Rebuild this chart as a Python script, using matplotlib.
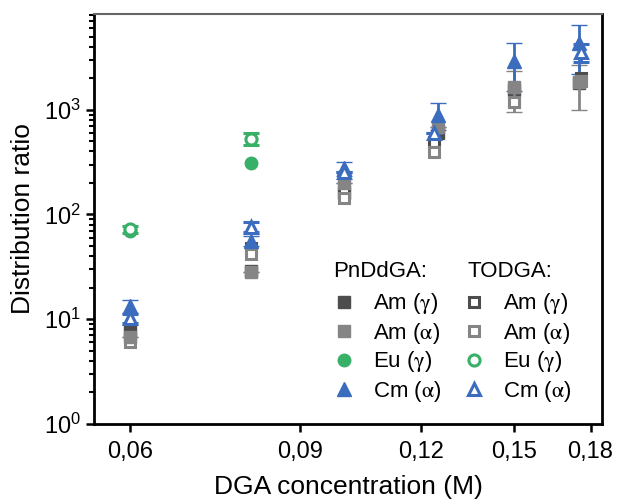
import matplotlib
matplotlib.use("Agg")
import matplotlib.pyplot as plt
from matplotlib.lines import Line2D
from matplotlib.ticker import FixedLocator, FixedFormatter, LogLocator, NullFormatter, NullLocator

plt.rcParams['font.family'] = ['Liberation Sans', 'DejaVu Sans']
plt.rcParams['mathtext.fontset'] = 'stix'

# ---- data ----
x_pn = [0.06, 0.08, 0.10, 0.125, 0.15, 0.175]
x_to = [0.06, 0.08, 0.10, 0.124, 0.15, 0.176]

pn_am_g = [7.8, 29, 160, 600, 1550, 1800]
pn_am_a = [6.8, 28, 200, 680, 1650, 1850]
pn_eu_g = [70, 310, None, None, None, None]
pn_cm_a = [13.4, 56, 275, 900, 2900, 4300]
pn_cm_a_err = [2, 6, 40, 260, 1400, 2100]
pn_am_a_err = [0, 0, 0, 0, 700, 850]

to_am_g = [7.0, 48, 165, 495, 1190, 2000]
to_am_a = [6.1, 42, 145, 398, 1190, 1900]
to_eu_g = [72, 530, None, None, None, None]
to_eu_err = [5, 70, 0, 0, 0, 0]
to_cm_a = [10.3, 76, 255, 600, None, 3550]
to_cm_a_err = [1, 8, 0, 0, 0, 700]

x_ticks = [0.06, 0.09, 0.12, 0.15, 0.18]
x_tick_labels = ['0,06', '0,09', '0,12', '0,15', '0,18']

c_dark = '#4d4d4d'
c_grey = '#858585'
c_green = '#38b068'
c_blue = '#3b6cbd'

fig = plt.figure(figsize=(6.17, 5.04), dpi=100)
ax = fig.add_axes([94/617, 80/504, 508/617, 410/504])


def clean(xs, ys, es=None):
    px, py, pe = [], [], []
    for i, (a, b) in enumerate(zip(xs, ys)):
        if b is None:
            continue
        px.append(a)
        py.append(b)
        pe.append(es[i] if es is not None else 0)
    return px, py, pe


def plot_series(xs, ys, color, marker, filled, errs=None, ms=8):
    px, py, pe = clean(xs, ys, errs)
    kw = dict(linestyle='none', marker=marker, markersize=ms,
              color=color, markeredgecolor=color, markeredgewidth=2.2 if not filled else 1,
              markerfacecolor=color if filled else 'white')
    if errs is not None:
        ax.errorbar(px, py, yerr=pe, ecolor=color, elinewidth=2, capsize=6, capthick=2, **kw)
    else:
        ax.plot(px, py, **kw)


plot_series(x_pn, pn_am_g, c_dark, 's', True, ms=8)
plot_series(x_pn, pn_am_a, c_grey, 's', True, pn_am_a_err, ms=8)
plot_series(x_pn, pn_eu_g, c_green, 'o', True, ms=9)
plot_series(x_pn, pn_cm_a, c_blue, '^', True, pn_cm_a_err, ms=10)

plot_series(x_to, to_am_g, c_dark, 's', False, ms=7)
plot_series(x_to, to_am_a, c_grey, 's', False, ms=7)
plot_series(x_to, to_eu_g, c_green, 'o', False, to_eu_err, ms=8)
plot_series(x_to, to_cm_a, c_blue, '^', False, to_cm_a_err, ms=9)

ax.set_xscale('log')
ax.set_yscale('log')
ax.set_xlim(0.055, 0.185)
ax.set_ylim(1, 8200)

ax.xaxis.set_major_locator(FixedLocator(x_ticks))
ax.xaxis.set_major_formatter(FixedFormatter(x_tick_labels))
ax.xaxis.set_minor_locator(NullLocator())
ax.xaxis.set_minor_formatter(NullFormatter())
ax.yaxis.set_major_locator(LogLocator(base=10, numticks=10))
ax.yaxis.set_minor_locator(LogLocator(base=10, subs=range(2, 10), numticks=20))
ax.yaxis.set_minor_formatter(NullFormatter())

ax.tick_params(axis='both', which='major', labelsize=17, length=6, width=1.8, direction='out')
ax.tick_params(axis='y', which='minor', length=3.5, width=1.5, direction='out')
ax.tick_params(axis='x', which='major', pad=6)

for s in ['left', 'bottom', 'right']:
    ax.spines[s].set_linewidth(2)
ax.spines['top'].set_linewidth(1.5)
ax.spines['top'].set_color('#666666')

ax.set_xlabel('DGA concentration (M)', fontsize=19, labelpad=9)
ax.set_ylabel('Distribution ratio', fontsize=19, labelpad=6)

# legend
h = [
    Line2D([], [], ls='none', marker='s', ms=8, color=c_dark),
    Line2D([], [], ls='none', marker='s', ms=8, color=c_grey),
    Line2D([], [], ls='none', marker='o', ms=9, color=c_green),
    Line2D([], [], ls='none', marker='^', ms=10, color=c_blue),
    Line2D([], [], ls='none', marker='s', ms=7, color=c_dark, mfc='white', mew=2.2),
    Line2D([], [], ls='none', marker='s', ms=7, color=c_grey, mfc='white', mew=2.2),
    Line2D([], [], ls='none', marker='o', ms=8, color=c_green, mfc='white', mew=2.2),
    Line2D([], [], ls='none', marker='^', ms=9, color=c_blue, mfc='white', mew=2.2),
]
labels = ['Am ($\\mathrm{\\gamma}$)', 'Am ($\\mathrm{\\alpha}$)',
          'Eu ($\\mathrm{\\gamma}$)', 'Cm ($\\mathrm{\\alpha}$)'] * 2
ax.legend(h, labels, ncol=2, frameon=False, fontsize=16, loc='lower left',
          bbox_to_anchor=(0.47, 0.05), handlelength=1.0, handletextpad=0.8,
          columnspacing=1.0, labelspacing=0.18, borderpad=0, borderaxespad=0)
ax.text(0.470, 0.371, 'PnDdGA:', transform=ax.transAxes, fontsize=16, va='center', ha='left')
ax.text(0.736, 0.371, 'TODGA:', transform=ax.transAxes, fontsize=16, va='center', ha='left')

fig.savefig('out.png', dpi=100)
